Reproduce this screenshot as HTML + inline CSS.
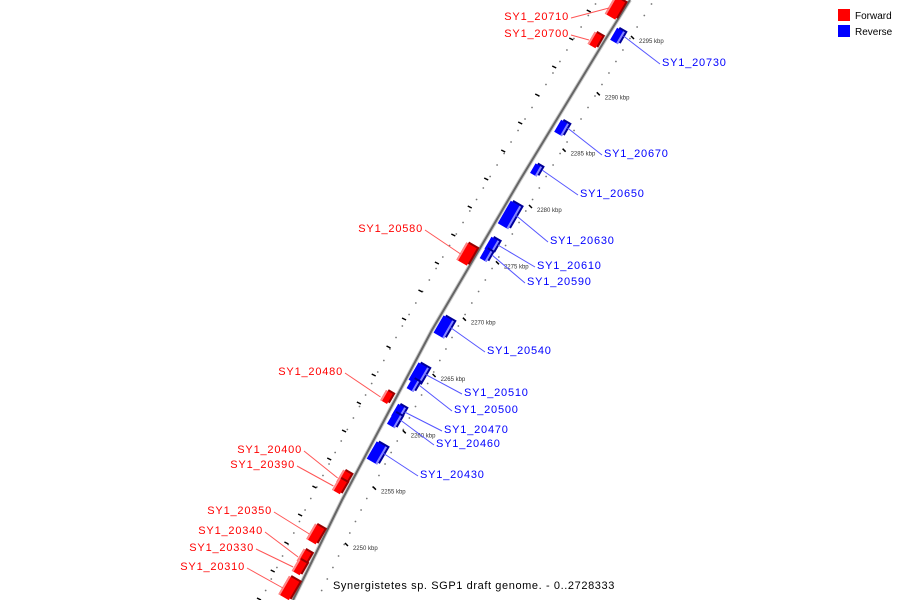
<!DOCTYPE html>
<html><head><meta charset="utf-8"><style>
body{margin:0;background:#fff;}
svg{display:block;font-family:"Liberation Sans",sans-serif;}
</style></head><body>
<svg id="c" width="900" height="600">
<g id="bg"></g>
<g id="legend">
<rect x="838" y="9" width="12" height="12" fill="#f00"/>
<text x="855" y="19" font-size="10">Forward</text>
<rect x="838" y="25" width="12" height="12" fill="#00f"/>
<text x="855" y="35" font-size="10">Reverse</text>
</g>
<text x="333" y="589" font-size="11" letter-spacing="0.6">Synergistetes sp. SGP1 draft genome. - 0..2728333</text>
</svg>
<script>
const NS="http://www.w3.org/2000/svg";
const svg=document.getElementById('c');
const bg=document.getElementById('bg');
const kbpTicks=[2250,2255,2260,2265,2270,2275,2280,2285,2290,2295];
const geneNames=["SY1_20710","SY1_20700","SY1_20730","SY1_20670","SY1_20650","SY1_20630","SY1_20580","SY1_20610","SY1_20590","SY1_20540","SY1_20480","SY1_20510","SY1_20500","SY1_20470","SY1_20460","SY1_20430","SY1_20400","SY1_20390","SY1_20350","SY1_20340","SY1_20330","SY1_20310"];
const geneStrand=["F","F","R","R","R","R","F","R","R","R","F","R","R","R","R","R","F","F","F","F","F","F"];
const geneY=[8,40,36,128,170,215,254,245,255,327,397,374,385,412,420,453,478,486,534,557,567,588];
const geneSize=[2,1,1,1,0.5,3,2,1,0.6,2,0.6,2,0.6,1,1,2,1,1,1.6,1,1,2.2];
const labelY=[16,33,62,153,193,240,228,265,281,350,371,392,409,429,443,474,449,464,510,530,547,566];
const labelX=[569,569,662,604,580,550,423,537,527,487,343,464,454,444,436,420,302,295,272,263,254,245];
// genome axis: y pixel -> x pixel (slightly curved perspective)
const axPts=[[0,630],[40,605],[180,520],[330,432],[500,342],[600,293]];
function axX(y){for(let i=0;i<axPts.length-1;i++){const a=axPts[i],b=axPts[i+1];if(y<=b[0]||i==axPts.length-2){return a[1]+(b[1]-a[1])*(y-a[0])/(b[0]-a[0]);}}}
function kbpY(k){return 547+(2250-k)*(547-40)/45;}
function mk(t,a,p){const e=document.createElementNS(NS,t);for(const k in a)e.setAttribute(k,a[k]);(p||svg).appendChild(e);return e;}
// dotted guides
for(let y=4;y<600;y+=11.5){
 const d1=mk('circle',{cx:axX(y)-32,cy:y,r:0.9,fill:'#777'},bg);
 
 
 const d2=mk('circle',{cx:axX(y)+24,cy:y,r:0.9,fill:'#777'},bg);
 
 
}
for(let y=10;y<600;y+=28){
 const l=mk('line',{x1:axX(y)-37,y1:y,x2:axX(y)-33,y2:y+2,stroke:'#000','stroke-width':1.5},bg);
 
 
}
// axis
let pts=[];for(let y=0;y<=600;y+=10)pts.push(axX(y)+','+y);
const ax2=mk('polyline',{points:pts.join(' '),fill:'none',stroke:'#ccc','stroke-width':4});


const ax=mk('polyline',{points:pts.join(' '),fill:'none',stroke:'#666','stroke-width':2});


// kbp ticks
kbpTicks.forEach(k=>{const y=kbpY(k),x=axX(y)+30;
 const t=mk('line',{x1:x-4,y1:y-4,x2:x-1,y2:y-1,stroke:'#000','stroke-width':1.5});
 
 
 const tx=mk('text',{x:x+4,y:y+3,'font-size':6,fill:'#333'});
 tx.textContent=k+' kbp';
 
 
});
// genes
geneNames.forEach((n,i)=>{
 const y=geneY[i],f=geneStrand[i]=='F';
 const x=axX(y)+(f?-10:10);
 const s=geneSize[i],L=8+6*s,H=6+3*Math.min(s,2);
 const col=f?'#f00':'#00f',lt=f?'#f88':'#88f',dk=f?'#900':'#009';
 const g=mk('g',{transform:`translate(${x},${y}) rotate(-60)`});
 
 
 mk('rect',{x:-L/2+2,y:-H/2+2,width:L,height:H,fill:dk},g);
 mk('rect',{x:-L/2,y:-H/2,width:L,height:H,fill:col},g);
 mk('rect',{x:-L/2,y:(f?-H/2:H/2-2),width:L,height:2,fill:lt},g);
 const tx=labelX[i],ty=labelY[i];
 const ln=mk('line',{x1:f?tx+2:tx-2,y1:ty+2,x2:x+(f?-6:6),y2:y,stroke:f?'#f55':'#55f','stroke-width':1});
 
 
 const t=mk('text',{x:tx,y:ty+4,'font-size':11,'letter-spacing':0.8,fill:col,'text-anchor':f?'end':'start'});
 t.textContent=n;
 
 
});
</script>
</body></html>
